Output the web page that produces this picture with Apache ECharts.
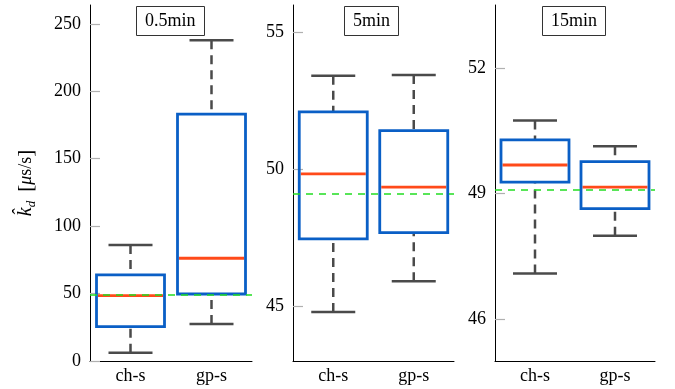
<!DOCTYPE html>
<html><head><meta charset="utf-8">
<script src="https://cdn.jsdelivr.net/npm/echarts@6/dist/echarts.min.js"></script>
<style>html,body{margin:0;padding:0;background:#fff}#c{width:675px;height:389px}</style>
</head><body><div id="c"></div>
<script>
// ---- data ----
const categories = ['ch-s', 'gp-s'];
const panelTitles = ['0.5min', '5min', '15min'];
// each box: [low whisker, Q1, median, Q3, high whisker]
const box05 = [[6.2, 25.5, 48.5, 63.8, 86.1], [27.5, 49.7, 76.2, 183.1, 237.8]];
const box5 = [[44.79, 47.46, 49.83, 52.1, 53.42], [45.91, 47.69, 49.35, 51.41, 53.44]];
const box15 = [[47.09, 49.27, 49.68, 50.28, 50.74], [47.99, 48.64, 49.15, 49.76, 50.13]];
const refValue = [49.1, 49.1, 49.1];
const yTicks05 = [0, 50, 100, 150, 200, 250];
const yTicks5 = [45, 50, 55];
const yTicks15 = [46, 49, 52];
const yRanges = [[0, 264], [43, 56], [45, 53.5]];

const boxes = [box05, box5, box15];
const yTicks = [yTicks05, yTicks5, yTicks15];
const grids = [
  {left: 90, top: 5, width: 162, height: 356},
  {left: 293, top: 5, width: 161, height: 356},
  {left: 495, top: 5, width: 160, height: 356}
];
const titleLeft = [136, 344, 542];

const FONT = '"Liberation Serif", "DejaVu Serif", serif';
const BLUE = '#0a5fc6', RED = '#ff4a1a', GRAY = '#4a4a4a', GREEN = '#22dd22';

function renderBox(params, api) {
  const ci = api.value(0);
  const lo = api.coord([ci, api.value(1)]);
  const q1 = api.coord([ci, api.value(2)]);
  const md = api.coord([ci, api.value(3)]);
  const q3 = api.coord([ci, api.value(4)]);
  const hi = api.coord([ci, api.value(5)]);
  const cx = lo[0];
  const bw = 68, cw = 44;
  const wStyle = {stroke: GRAY, lineWidth: 2.5, lineDash: [9, 6], fill: null};
  const cStyle = {stroke: GRAY, lineWidth: 2.5, fill: null};
  return {
    type: 'group',
    children: [
      {type: 'line', shape: {x1: cx, y1: hi[1], x2: cx, y2: q3[1]}, style: wStyle},
      {type: 'line', shape: {x1: cx, y1: lo[1], x2: cx, y2: q1[1]}, style: wStyle},
      {type: 'line', shape: {x1: cx - cw / 2, y1: hi[1], x2: cx + cw / 2, y2: hi[1]}, style: cStyle},
      {type: 'line', shape: {x1: cx - cw / 2, y1: lo[1], x2: cx + cw / 2, y2: lo[1]}, style: cStyle},
      {type: 'line', shape: {x1: cx - bw / 2 + 1.5, y1: md[1], x2: cx + bw / 2 - 1.5, y2: md[1]},
        style: {stroke: RED, lineWidth: 2.8}},
      {type: 'rect', shape: {x: cx - bw / 2, y: q3[1], width: bw, height: q1[1] - q3[1]},
        style: {stroke: BLUE, lineWidth: 2.8, fill: 'rgba(255,255,255,0)'}}
    ]
  };
}

const option = {
  animation: false,
  backgroundColor: '#fff',
  title: panelTitles.map((t, i) => ({
    text: t, left: titleLeft[i], top: 6,
    borderColor: '#333', borderWidth: 1, padding: [6, 9],
    textStyle: {fontFamily: FONT, fontSize: 18, lineHeight: 18, fontWeight: 'normal', color: '#000'}
  })),
  grid: grids,
  xAxis: grids.map((g, i) => ({
    type: 'category', gridIndex: i, data: categories, boundaryGap: true,
    axisLine: {lineStyle: {color: '#000', width: 1}},
    axisTick: {inside: true, length: 10, alignWithLabel: true, lineStyle: {color: '#b0b0b0', width: 1.2}},
    axisLabel: {fontFamily: FONT, fontSize: 18, color: '#000', margin: 6},
    splitLine: {show: false}
  })),
  yAxis: grids.map((g, i) => ({
    type: 'value', gridIndex: i, min: yRanges[i][0], max: yRanges[i][1],
    axisLine: {show: true, lineStyle: {color: '#000', width: 1}},
    axisTick: {show: true, inside: true, length: 10, customValues: yTicks[i], lineStyle: {color: '#b0b0b0', width: 1.2}},
    axisLabel: {fontFamily: FONT, fontSize: 18, color: '#000', margin: 9, customValues: yTicks[i]},
    splitLine: {show: false},
    name: i === 0 ? '{k|k\u0302}{d|d}  {b|[}{m|\u03bc}s/s{b|]}' : '',
    nameLocation: 'middle', nameGap: 52,
    nameTextStyle: {
      fontFamily: FONT, fontSize: 18, color: '#000',
      rich: {
        k: {fontFamily: FONT, fontStyle: 'italic', fontSize: 20, lineHeight: 24},
        d: {fontFamily: FONT, fontStyle: 'italic', fontSize: 13, lineHeight: 13, verticalAlign: 'bottom'},
        m: {fontFamily: FONT, fontStyle: 'italic', fontSize: 18},
        b: {fontFamily: FONT, fontSize: 21}
      }
    }
  })),
  series: boxes.flatMap((b, i) => [
    {
      type: 'line', xAxisIndex: i, yAxisIndex: i, data: [], z: 1,
      markLine: {
        silent: true, symbol: 'none', label: {show: false},
        lineStyle: {color: GREEN, type: [7, 6], width: 1.7},
        data: [{yAxis: refValue[i]}]
      }
    },
    {
      type: 'custom', xAxisIndex: i, yAxisIndex: i,
      renderItem: renderBox,
      encode: {x: 0, y: [1, 2, 3, 4, 5]},
      data: b.map((v, j) => [j].concat(v)),
      z: 3
    }
  ])
};
const chart = echarts.init(document.getElementById('c'), null, {renderer: 'canvas'});
chart.setOption(option);
</script></body></html>
